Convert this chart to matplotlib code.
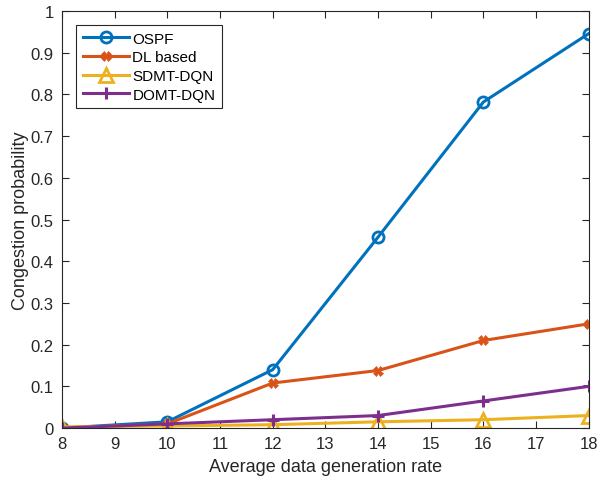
import matplotlib
matplotlib.use("Agg")
import matplotlib.pyplot as plt

x = [8, 10, 12, 14, 16, 18]
ospf = [0.0, 0.015, 0.140, 0.458, 0.782, 0.946]
dl_based = [0.0, 0.010, 0.108, 0.138, 0.210, 0.250]
sdmt_dqn = [0.003, 0.005, 0.008, 0.015, 0.020, 0.030]
domt_dqn = [0.0, 0.010, 0.020, 0.030, 0.065, 0.100]

plt.rcParams['font.family'] = ['Liberation Sans', 'DejaVu Sans']

fig = plt.figure(figsize=(5.99, 4.81), dpi=100)
ax = fig.add_axes([0.1035, 0.108, 0.8795, 0.867])

ax.plot(x, ospf, color='#0072BD', lw=2.2, marker='o', ms=8, mfc='none', mew=2, label='OSPF')
ax.plot(x, dl_based, color='#D95319', lw=2.2, marker='X', ms=7, mew=0.5, label='DL based')
ax.plot(x, sdmt_dqn, color='#EDB120', lw=2.2, marker='^', ms=10, mfc='none', mew=2, label='SDMT-DQN')
ax.plot(x, domt_dqn, color='#7E2F8E', lw=2.2, marker='+', ms=9, mew=2.2, label='DOMT-DQN')

ax.set_xlim(8, 18)
ax.set_ylim(0, 1)
ax.set_xticks(range(8, 19))
ax.set_yticks([i / 10 for i in range(11)])
ax.set_yticklabels(['0'] + ['%.1f' % (i / 10) for i in range(1, 10)] + ['1'])
ax.tick_params(direction='in', top=True, right=True, labelsize=12, colors='#262626', length=5, pad=6)
for s in ax.spines.values():
    s.set_color('#262626')
    s.set_linewidth(0.8)

ax.set_xlabel('Average data generation rate', fontsize=13, color='#262626', labelpad=5)
ax.set_ylabel('Congestion probability', fontsize=13, color='#262626', labelpad=1)

leg = ax.legend(loc='upper left', bbox_to_anchor=(0.012, 0.985), fontsize=11, fancybox=False,
                edgecolor='#262626', framealpha=1, handlelength=3.0, borderpad=0.45,
                labelspacing=0.3, handletextpad=0.25)
leg.get_frame().set_linewidth(0.8)

fig.savefig('out.png', dpi=100)
